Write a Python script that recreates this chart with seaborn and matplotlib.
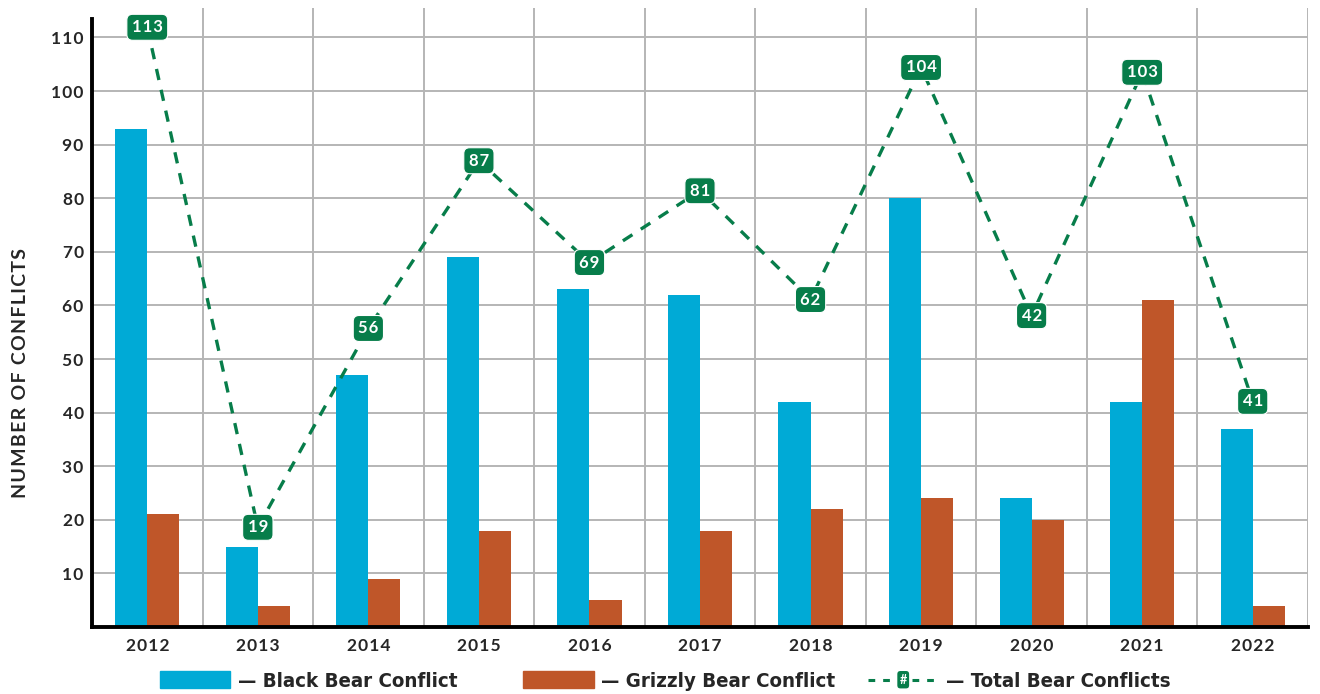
import numpy as np
import pandas as pd
import matplotlib
matplotlib.use("Agg")
import matplotlib.pyplot as plt
import seaborn as sns
from matplotlib.patches import Patch, FancyBboxPatch
from matplotlib.lines import Line2D
from matplotlib.legend_handler import HandlerBase
from matplotlib.ticker import FixedLocator
from matplotlib.text import Text

# data
years = ["2012", "2013", "2014", "2015", "2016", "2017", "2018", "2019", "2020", "2021", "2022"]
black_bear = [93, 15, 47, 69, 63, 62, 42, 80, 24, 42, 37]
grizzly_bear = [21, 4, 9, 18, 5, 18, 22, 24, 20, 61, 4]
# label text, and where the line points actually sit in the picture
total_labels = [113, 19, 56, 87, 69, 81, 62, 104, 42, 103, 41]
total_line = [111.9, 18.6, 55.7, 87.0, 68.0, 81.4, 61.1, 104.4, 58.1, 103.5, 42.1]

blue = "#00aad6"
orange = "#bf5629"
green = "#077d4a"
grid_col = "#b5b5b5"

sns.set_style("white")
plt.rcParams["font.family"] = ["Lato", "DejaVu Sans"]

HS = "\u200a"  # hair space for letter spacing


def spaced(s):
    return HS.join(s)


df = pd.DataFrame({
    "year": years * 2,
    "count": black_bear + grizzly_bear,
    "type": ["Black Bear Conflict"] * len(years) + ["Grizzly Bear Conflict"] * len(years),
})

fig = plt.figure(figsize=(13.2, 6.94), dpi=100)
ax = fig.add_axes([92 / 1320, 1 - 627 / 694, 1216 / 1320, 619 / 694])

sns.barplot(data=df, x="year", y="count", hue="type", order=years,
            palette=[blue, orange], width=0.58, saturation=1, legend=False,
            linewidth=0, edgecolor="none", ax=ax)

# total line with labels
xpos = np.arange(len(years))
ax.plot(xpos, total_line, color=green, lw=2.4, ls=(0, (3.4, 3.0)), zorder=4)
for x, y, v in zip(xpos, total_line, total_labels):
    ax.text(x, y, spaced(str(v)), ha="center", va="center", color="white", fontsize=12,
            fontweight="bold", zorder=6,
            bbox=dict(boxstyle="round,pad=0.3,rounding_size=0.35", fc=green, ec="white", lw=0.8))

ax.set_xlim(-0.5, len(years) - 0.5)
ax.set_ylim(0, 115.5)
ax.xaxis.set_minor_locator(FixedLocator(np.arange(0.5, len(years), 1)))
ax.set_axisbelow(True)
ax.grid(axis="y", which="major", color=grid_col, lw=1.4)
ax.grid(axis="x", which="minor", color=grid_col, lw=1.4)
ax.grid(axis="x", which="major", visible=False)

for s in ["top", "right"]:
    ax.spines[s].set_visible(False)
for s in ["left", "bottom"]:
    ax.spines[s].set_linewidth(2.8)
    ax.spines[s].set_color("black")
ax.spines["left"].set_bounds(0, 113.5)

ax.tick_params(axis="both", which="both", length=0)
ax.tick_params(axis="y", pad=6)
ax.tick_params(axis="x", pad=8)
ax.set_xticks(xpos, [spaced(y) for y in years])
ax.set_yticks(np.arange(10, 111, 10), [spaced(str(v)) for v in range(10, 111, 10)])
for lbl in ax.get_xticklabels() + ax.get_yticklabels():
    lbl.set_fontweight("bold")
    lbl.set_fontsize(12.5)
ax.set_xlabel("")
ax.set_ylabel(spaced("NUMBER OF CONFLICTS"), fontsize=14, fontweight="bold")
ax.yaxis.set_label_coords(-0.0515, 0.41)


class HandlerTotal(HandlerBase):
    def create_artists(self, legend, orig_handle, xdescent, ydescent, width, height, fontsize, trans):
        yc = height / 2 - ydescent
        line = Line2D([-xdescent, width - xdescent], [yc, yc], color=green, lw=2.2,
                      ls=(0, (2.2, 2.6)), transform=trans)
        bw, bh = 10, height * 1.15
        cx = width / 2 - xdescent
        box = FancyBboxPatch((cx - bw / 2, yc - bh / 2), bw, bh,
                             boxstyle="round,pad=0,rounding_size=3", fc=green, ec="white",
                             lw=1.5, transform=trans, zorder=3)
        txt = Text(cx, yc, "#", color="white", ha="center", va="center", fontsize=9,
                   fontweight="bold", transform=trans)
        return [line, box, txt]


leg_prop = {"family": "DejaVu Sans", "stretch": "condensed", "size": 14.7, "weight": "bold"}
leg_kw = dict(frameon=False, handlelength=3.45, handleheight=0.9, handletextpad=0.35,
              borderpad=0, borderaxespad=0, prop=leg_prop)
leg_y = 1 - 681 / 694

fig.legend([Patch(color=blue), Patch(color=orange)],
           ["— Black Bear Conflict", "— Grizzly Bear Conflict"],
           loc="center left", bbox_to_anchor=(160 / 1320, leg_y), ncol=2,
           columnspacing=3.25, **leg_kw)
fig.legend([Line2D([], [], color=green)], ["— Total Bear Conflicts"],
           loc="center left", bbox_to_anchor=(868 / 1320, leg_y),
           handler_map={Line2D: HandlerTotal()}, **leg_kw)

fig.savefig("out.png", dpi=100, facecolor="white")
